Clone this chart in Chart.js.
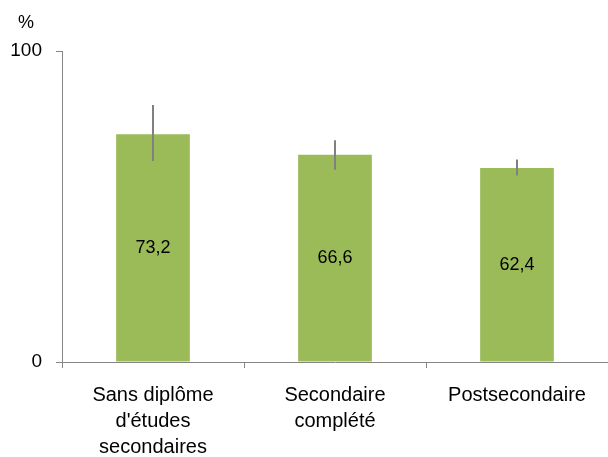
<!DOCTYPE html>
<html>
<head>
<meta charset="utf-8">
<script src="https://cdn.jsdelivr.net/npm/chart.js@4/dist/chart.umd.min.js"></script>
<style>
  html, body { margin: 0; padding: 0; background: #fff; }
  #wrap { width: 608px; height: 457px; }
</style>
</head>
<body>
<div id="wrap"><canvas id="chart"></canvas></div>
<script>
// Données
const categories = [['Sans diplôme', "d'études", 'secondaires'], ['Secondaire', 'complété'], ['Postsecondaire']];
const values = [73.2, 66.6, 62.4];
const errLow = [64.6, 61.8, 60.0];
const errHigh = [82.6, 71.3, 65.1];
const yTicks = [0, 100];

const FONT = "'Liberation Sans', Arial, sans-serif";

// Barres d'erreur + étiquettes de valeurs + symbole %
const extras = {
  id: 'extras',
  afterDatasetsDraw(chart) {
    const ctx = chart.ctx;
    const y = chart.scales.y;
    const meta = chart.getDatasetMeta(0);
    ctx.save();
    meta.data.forEach((bar, i) => {
      // valeur au centre de la barre
      ctx.fillStyle = '#000';
      ctx.font = '18px ' + FONT;
      ctx.textAlign = 'center';
      ctx.textBaseline = 'middle';
      ctx.fillText(values[i].toFixed(1).replace('.', ','), bar.x, (bar.y + bar.base) / 2);
      // barre d'erreur
      ctx.strokeStyle = '#808080';
      ctx.lineWidth = 2;
      ctx.beginPath();
      ctx.moveTo(bar.x, y.getPixelForValue(errLow[i]));
      ctx.lineTo(bar.x, y.getPixelForValue(errHigh[i]));
      ctx.stroke();
    });
    ctx.fillStyle = '#000';
    ctx.font = '18px ' + FONT;
    ctx.textAlign = 'center';
    ctx.textBaseline = 'middle';
    ctx.fillText('%', chart.chartArea.left - 36, chart.chartArea.top - 28);
    ctx.restore();
  }
};

new Chart(document.getElementById('chart').getContext('2d'), {
  type: 'bar',
  data: {
    labels: categories,
    datasets: [{
      data: values,
      backgroundColor: '#9BBB59',
      borderWidth: 0,
      categoryPercentage: 1,
      barPercentage: 0.405
    }]
  },
  options: {
    responsive: true,
    maintainAspectRatio: false,
    animation: false,
    layout: { padding: { top: 51, right: -2, bottom: 0, left: 0 } },
    plugins: { legend: { display: false }, tooltip: { enabled: false } },
    scales: {
      x: {
        offset: true,
        grid: { display: true, drawOnChartArea: false, offset: true, tickLength: 6, color: '#868686' },
        border: { color: '#868686', width: 1 },
        ticks: { color: '#000', font: { family: FONT, size: 20, lineHeight: 1.3 }, padding: 14, maxRotation: 0 },
        afterFit: s => { s.height = 95; }
      },
      y: {
        min: 0,
        max: 100,
        afterBuildTicks: s => { s.ticks = yTicks.map(v => ({ value: v })); },
        grid: { display: true, drawOnChartArea: false, tickLength: 6, color: '#868686' },
        border: { color: '#868686', width: 1 },
        ticks: { color: '#000', font: { family: FONT, size: 19 }, padding: 14 },
        afterFit: s => { s.width = 62; }
      }
    }
  },
  plugins: [extras]
});
</script>
</body>
</html>
